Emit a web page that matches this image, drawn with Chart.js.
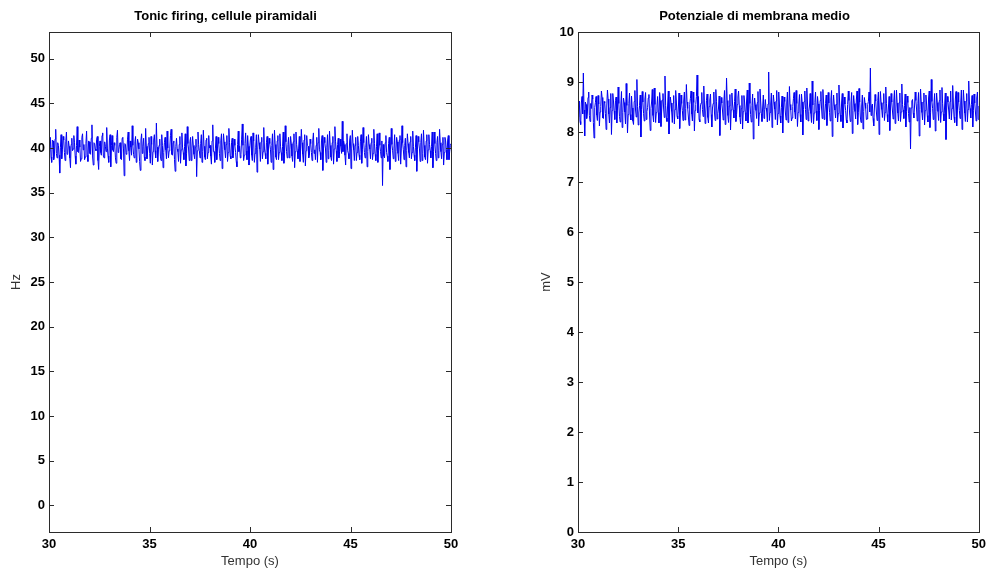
<!DOCTYPE html>
<html>
<head>
<meta charset="utf-8">
<script src="https://cdn.jsdelivr.net/npm/chart.js@4/dist/chart.umd.min.js"></script>
<style>
  html, body { margin: 0; padding: 0; background: #fff; }
  .wrap { position: absolute; top: 0; height: 572px; }
  #left { left: 0; width: 480px; }
  #right { left: 530px; width: 461px; }
</style>
</head>
<body>
<div class="wrap" id="left"><canvas id="cLeft"></canvas></div>
<div class="wrap" id="right"><canvas id="cRight"></canvas></div>
<script>
// time window (s)
const T_START = 30;
const T_END = 50;
const X_TICKS = [30, 35, 40, 45, 50];

// firing rate, Hz
const firingHz = [
  39.6,40.5,41.2,39.0,38.4,40.9,40.8,38.7,39.1,41.0,42.1,39.4,38.9,40.6,40.3,39.2,37.2,40.1,41.5,38.8,
  39.8,41.3,40.9,39.5,38.6,40.7,41.8,39.3,39.4,40.8,40.2,38.9,37.8,40.4,41.1,39.7,39.9,41.4,40.6,39.1,
  38.2,40.3,42.4,39.6,39.5,40.9,40.1,38.5,38.8,41.2,41.6,39.8,40.4,38.7,39.0,40.5,41.9,39.2,38.5,40.8,
  40.7,39.4,39.3,41.1,42.6,39.0,38.1,40.6,40.5,39.9,39.7,41.0,41.3,38.6,37.6,40.2,40.8,39.5,39.2,41.4,
  41.7,39.1,38.9,40.7,40.2,39.6,42.3,40.0,39.1,38.4,40.9,41.5,37.9,40.3,41.4,39.8,39.6,40.6,40.3,38.9,
  38.3,41.2,42.0,39.5,39.8,40.4,40.6,38.8,38.7,41.1,41.2,39.9,36.9,40.5,40.4,39.3,39.5,41.0,41.8,39.7,
  38.6,40.8,40.1,39.2,42.5,40.3,39.3,38.9,40.7,41.3,38.4,39.8,41.0,40.6,39.9,38.5,37.5,40.9,41.6,39.4,
  40.2,41.1,39.0,38.6,42.2,40.2,38.8,39.7,40.5,41.2,39.4,38.3,41.3,40.4,38.1,39.6,40.9,41.5,39.7,38.9,
  42.8,40.1,38.5,39.8,40.3,41.0,39.1,38.6,41.5,40.3,37.8,39.5,40.6,41.2,39.8,38.8,41.9,40.0,38.9,39.7,
  40.0,41.4,42.1,39.3,39.2,40.6,40.8,38.7,37.4,40.2,41.1,39.9,39.6,38.5,40.4,41.3,38.3,39.8,41.7,40.1,
  39.5,38.7,40.2,41.6,38.0,39.4,42.4,40.5,39.9,38.6,40.7,41.2,38.6,39.9,41.3,40.3,39.3,38.8,40.1,41.0,
  36.8,39.7,41.8,40.4,39.7,38.9,40.5,41.5,38.4,39.6,42.0,40.2,39.0,38.7,40.9,41.1,38.8,39.5,41.4,40.0,
  40.3,39.1,38.2,40.8,42.6,39.6,39.6,38.4,40.0,41.3,38.7,39.9,41.2,40.5,39.4,38.6,40.8,41.6,37.7,39.8,
  41.6,40.7,39.8,38.9,40.4,41.4,38.5,39.5,42.2,40.6,39.1,38.8,40.6,41.1,38.9,39.7,41.0,40.3,39.5,38.5,
  37.9,40.4,41.9,39.6,40.2,38.9,39.3,41.0,42.7,40.3,38.6,39.2,40.5,41.7,39.7,38.7,41.4,40.2,38.1,39.9,
  40.9,41.3,39.2,38.6,41.7,40.8,38.4,39.4,40.1,41.5,37.3,39.8,41.5,40.6,39.9,38.5,40.7,41.2,38.8,39.6,
  42.3,40.0,39.4,38.8,40.6,41.3,38.2,39.9,41.1,40.5,39.8,38.4,40.3,41.6,37.6,39.7,42.0,40.4,39.0,38.7,
  40.8,41.4,38.7,39.5,41.6,40.2,39.5,38.6,40.2,41.8,38.3,39.4,42.5,40.7,39.6,38.9,40.4,41.2,38.9,39.8,
  41.3,40.5,39.1,38.5,40.7,41.6,37.8,39.6,41.8,40.4,39.7,38.8,40.0,41.3,38.5,39.9,42.1,40.6,39.3,38.4,
  40.9,41.5,38.0,39.7,41.4,40.3,40.2,38.9,39.2,41.0,40.5,39.5,38.6,40.8,41.7,39.4,39.8,38.7,40.3,41.2,
  38.4,40.6,42.2,39.8,39.5,38.7,40.8,41.4,37.5,39.9,41.2,40.6,39.9,38.4,40.1,41.5,38.8,39.7,41.9,40.3,
  39.0,38.6,40.6,41.3,38.2,39.9,42.4,40.7,39.7,38.5,40.4,41.1,38.9,39.6,41.0,40.2,39.4,43.0,39.6,40.8,
  40.4,39.2,38.1,40.5,41.6,39.7,39.4,38.8,40.9,41.4,37.7,39.9,42.0,40.5,39.8,38.6,40.3,41.2,38.6,39.5,
  41.3,40.3,39.2,38.7,40.7,41.5,38.3,39.8,42.3,40.6,39.5,38.9,40.1,41.3,37.9,39.6,41.5,40.4,39.9,38.8,
  40.6,41.1,38.7,39.4,42.1,40.5,39.3,38.6,40.2,41.6,38.4,39.7,41.7,40.3,39.6,38.9,40.8,35.8,40.4,39.1,
  38.9,40.6,41.4,39.5,39.1,38.5,40.5,41.2,37.6,39.8,42.2,40.4,39.7,38.8,40.0,41.5,38.5,39.6,41.2,40.7,
  39.4,38.6,40.9,41.4,38.2,39.9,42.5,40.6,39.8,38.7,40.3,41.1,37.9,39.7,41.6,40.5,39.5,38.9,40.7,41.3,
  38.8,39.5,41.9,40.2,39.2,38.6,40.1,41.4,37.4,39.8,41.3,40.7,39.9,38.5,40.6,41.6,38.6,39.4,42.0,40.3,
  39.0,38.7,40.8,41.5,38.3,39.8,41.5,40.4,39.7,38.9,40.2,41.8,37.8,39.6,41.8,40.5,39.4,38.6,40.6,41.3,
  38.9,39.7,42.1,40.6,39.6,38.8,40.4,41.2,38.1,39.5,41.2,40.8,39.8,38.7,40.9,41.4,38.7,39.6,40.3,40.5
];

// mean membrane potential, mV
const membraneMv = [
  8.30,8.52,8.62,8.21,8.15,8.58,8.71,8.36,9.18,8.44,7.92,8.60,8.55,8.27,8.38,8.69,8.80,8.33,8.21,8.57,
  8.47,8.74,8.66,8.19,7.88,8.49,8.59,8.71,8.34,8.23,8.73,8.56,8.12,8.40,8.51,8.82,8.69,8.28,8.27,8.61,
  8.58,8.37,8.05,8.52,8.84,8.66,8.36,8.18,8.49,8.77,7.95,8.43,8.77,8.62,8.42,8.25,8.63,8.70,8.18,8.46,
  8.90,8.57,8.31,8.20,8.54,8.81,8.09,8.39,8.68,8.59,8.40,8.16,8.97,8.53,7.98,8.35,8.57,8.78,8.35,8.24,
  8.72,8.48,8.22,8.15,8.61,8.83,8.44,8.30,9.05,8.51,8.14,8.38,8.53,8.74,7.90,8.45,8.81,8.60,8.37,8.22,
  8.66,8.79,8.25,8.41,8.49,8.68,8.75,8.32,8.03,8.47,8.60,8.85,8.33,8.20,8.88,8.55,8.19,8.39,8.52,8.71,
  8.39,8.18,8.79,8.63,8.11,8.42,8.64,8.77,8.46,8.29,9.12,8.53,8.28,8.21,8.56,8.82,7.96,8.44,8.70,8.58,
  8.41,8.19,8.58,8.73,8.16,8.45,8.83,8.62,8.32,8.26,8.50,8.78,8.07,8.40,8.74,8.57,8.43,8.23,8.62,8.80,
  8.24,8.47,8.95,8.60,8.47,8.30,8.13,8.55,8.67,8.82,8.36,8.22,8.80,8.59,8.02,8.43,8.55,8.71,9.14,8.38,
  8.71,8.25,8.20,8.52,8.58,8.79,8.45,8.31,8.92,8.54,8.17,8.40,8.63,8.76,8.29,8.18,8.51,8.64,8.76,8.35,
  8.10,8.48,8.57,8.80,8.38,8.23,8.85,8.61,8.26,8.37,8.48,8.72,7.93,8.46,8.69,8.58,8.42,8.24,8.60,8.83,
  8.15,8.40,9.08,8.63,8.33,8.19,8.52,8.75,8.04,8.44,8.78,8.56,8.44,8.28,8.61,8.86,8.21,8.35,8.55,8.70,
  8.82,8.53,8.30,8.16,8.47,8.73,8.06,8.41,8.73,8.60,8.39,8.22,8.64,8.84,8.18,8.36,8.98,8.57,8.35,8.20,
  8.53,8.76,7.86,8.43,8.68,8.55,8.43,8.27,8.59,8.81,8.12,8.38,8.86,8.62,8.37,8.21,8.50,8.74,8.27,8.45,
  8.65,8.48,8.41,8.20,8.56,9.20,8.23,8.39,8.56,8.78,8.09,8.44,8.74,8.60,8.46,8.25,8.62,8.83,8.14,8.37,
  8.80,8.58,8.32,8.18,8.49,8.72,7.98,8.42,8.70,8.61,8.38,8.24,8.58,8.80,8.19,8.36,8.91,8.55,8.44,8.22,
  8.28,8.51,8.67,8.79,8.40,8.26,8.83,8.57,8.11,8.39,8.54,8.75,8.35,8.20,8.76,8.60,7.94,8.45,8.61,8.82,
  8.45,8.25,8.88,8.58,8.22,8.41,8.52,8.77,8.37,8.19,9.02,8.54,8.16,8.38,8.59,8.80,8.42,8.23,8.71,8.56,
  8.05,8.43,8.63,8.81,8.48,8.27,8.85,8.60,8.25,8.36,8.57,8.74,8.13,8.44,8.79,8.58,8.39,8.22,8.66,8.83,
  7.91,8.46,8.74,8.55,8.44,8.28,8.55,8.78,8.20,8.37,8.94,8.60,8.34,8.21,8.60,8.77,8.08,8.42,8.70,8.56,
  8.43,8.24,8.18,8.55,8.82,8.63,8.36,8.21,8.58,8.79,7.97,8.43,8.73,8.57,8.41,8.26,8.64,8.82,8.15,8.39,
  8.87,8.60,8.30,8.19,8.52,8.74,8.06,8.41,8.69,8.58,8.47,8.25,8.26,8.55,8.61,8.80,8.40,9.28,8.33,8.52,
  8.56,8.27,8.12,8.48,8.75,8.62,8.40,8.23,8.63,8.80,7.95,8.44,8.81,8.59,8.45,8.29,8.58,8.77,8.23,8.39,
  8.90,8.57,8.35,8.20,8.50,8.71,8.03,8.44,8.77,8.60,8.42,8.26,8.62,8.83,8.17,8.38,8.84,8.58,8.38,8.22,
  8.59,8.78,8.21,8.40,8.96,8.55,8.44,8.27,8.53,8.76,8.10,8.41,8.72,8.59,8.37,8.20,8.49,7.66,8.48,8.62,
  8.65,8.38,8.28,8.52,8.80,8.63,8.46,8.22,8.57,8.79,7.92,8.45,8.86,8.60,8.39,8.24,8.60,8.78,8.14,8.43,
  8.74,8.56,8.33,8.20,8.68,8.82,8.09,8.39,9.05,8.61,8.47,8.25,8.56,8.77,8.02,8.41,8.78,8.59,8.41,8.23,
  8.63,8.84,8.19,8.40,8.89,8.57,8.36,8.22,8.54,8.78,7.85,8.44,8.71,8.60,8.44,8.26,8.61,8.82,8.24,8.47,
  8.93,8.58,8.30,8.19,8.66,8.81,8.12,8.40,8.79,8.60,8.43,8.27,8.58,8.84,8.05,8.42,8.84,8.62,8.38,8.21,
  8.62,8.77,8.20,8.45,9.02,8.60,8.47,8.28,8.55,8.73,8.10,8.43,8.76,8.58,8.40,8.22,8.68,8.80,8.25,8.52
];

const FONT = "'Liberation Sans', Arial, sans-serif";

// sample times, evenly spaced over the window
function sampleTimes(n) {
  const dt = (T_END - T_START) / (n - 1);
  return Array.from({ length: n }, (_, i) => T_START + i * dt);
}

// matlab style box with inward ticks on all four sides
const matlabBox = {
  id: "matlabBox",
  afterDatasetsDraw(chart) {
    const { ctx, chartArea: a, scales } = chart;
    const len = 5;
    ctx.save();
    ctx.strokeStyle = "#2b2b2b";
    ctx.lineWidth = 1;
    ctx.beginPath();
    scales.x.ticks.forEach((t) => {
      const px = Math.round(scales.x.getPixelForValue(t.value)) + 0.5;
      ctx.moveTo(px, a.bottom); ctx.lineTo(px, a.bottom - len);
      ctx.moveTo(px, a.top); ctx.lineTo(px, a.top + len);
    });
    scales.y.ticks.forEach((t) => {
      const py = Math.round(scales.y.getPixelForValue(t.value)) + 0.5;
      ctx.moveTo(a.left, py); ctx.lineTo(a.left + len, py);
      ctx.moveTo(a.right, py); ctx.lineTo(a.right - len, py);
    });
    ctx.stroke();
    ctx.strokeRect(Math.round(a.left) + 0.5, Math.round(a.top) + 0.5,
      Math.round(a.right - a.left), Math.round(a.bottom - a.top));
    ctx.restore();
  },
};

function makeChart(id, values, cfg) {
  const times = sampleTimes(values.length);
  return new Chart(document.getElementById(id), {
    type: "line",
    data: {
      datasets: [{
        data: values.map((v, i) => ({ x: times[i], y: v })),
        borderColor: "#0000f0",
        borderWidth: 1,
        pointRadius: 0,
        tension: 0,
        fill: false,
      }],
    },
    options: {
      responsive: true, maintainAspectRatio: false,
      animation: false,
      layout: { padding: { left: 0, right: cfg.padRight, top: 0, bottom: 0 } },
      plugins: {
        legend: { display: false },
        tooltip: { enabled: false },
        title: {
          display: true, text: cfg.title, color: "#000",
          font: { family: FONT, size: 13, weight: "bold" },
          padding: { top: 9, bottom: 7.4 },
        },
      },
      scales: {
        x: {
          type: "linear", min: T_START, max: T_END,
          grid: { display: false, drawTicks: false }, border: { display: false },
          afterBuildTicks: (s) => { s.ticks = X_TICKS.map((v) => ({ value: v })); },
          ticks: { color: "#000", padding: 5, maxRotation: 0, font: { family: FONT, size: 13, weight: "bold" } },
          title: { display: true, text: "Tempo (s)", color: "#333", padding: { top: 0, bottom: 3 }, font: { family: FONT, size: 13 } },
          afterFit: (s) => { s.height = 40; },
        },
        y: {
          type: "linear", min: cfg.yMin, max: cfg.yMax,
          grid: { display: false, drawTicks: false }, border: { display: false },
          ticks: { stepSize: cfg.yStep, includeBounds: false, color: "#000", padding: 4, font: { family: FONT, size: 13, weight: "bold" } },
          title: { display: true, text: cfg.yLabel, color: "#333", padding: { top: 9, bottom: 0 }, font: { family: FONT, size: 13 } },
          afterFit: (s) => { s.width = cfg.axisWidth; },
        },
      },
    },
    plugins: [matlabBox],
  });
}

makeChart("cLeft", firingHz, {
  title: "Tonic firing, cellule piramidali", yLabel: "Hz",
  yMin: -3, yMax: 53, yStep: 5, axisWidth: 49, padRight: 29,
});

makeChart("cRight", membraneMv, {
  title: "Potenziale di membrana medio", yLabel: "mV",
  yMin: 0, yMax: 10, yStep: 1, axisWidth: 48, padRight: 12,
});
</script>
</body>
</html>
